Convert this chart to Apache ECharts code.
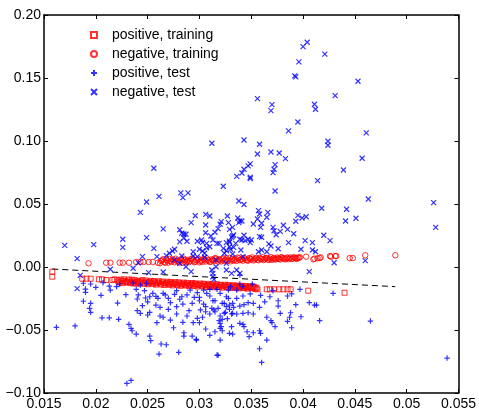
<!DOCTYPE html>
<html>
<head>
<meta charset="utf-8">
<script src="https://cdn.jsdelivr.net/npm/echarts@6/dist/echarts.min.js"></script>
<style>
html,body{margin:0;padding:0;background:#fff;}
#chart{width:479px;height:415px;}
</style>
</head>
<body>
<div id="chart"></div>
<script>
// ---- tick labels ----
var xMin = 0.015, xMax = 0.055, xStep = 0.005;
var xTickLabels = ['0.015','0.02','0.025','0.03','0.035','0.04','0.045','0.05','0.055'];
var yMin = -0.10, yMax = 0.20, yStep = 0.05;
var yTickLabels = ['\u22120.10','\u22120.05','0.00','0.05','0.10','0.15','0.20'];

// ---- series names ----
var seriesNames = ['positive, training','negative, training','positive, test','negative, test'];

// ---- positive, training (red squares) ----
var posTrain = [
[0.0158,-0.0037],[0.0158,-0.0077],[0.0187,-0.0093],[0.0191,-0.0093],[0.0195,-0.0093],[0.0203,-0.0098],[0.0206,-0.0098],[0.0210,-0.0103],[0.0216,-0.0103],[0.0218,-0.0098],
[0.0221,-0.0105],[0.0223,-0.0124],[0.0225,-0.0112],[0.0227,-0.0098],[0.0229,-0.0120],[0.0231,-0.0108],[0.0233,-0.0127],[0.0235,-0.0101],[0.0237,-0.0116],[0.0239,-0.0130],
[0.0241,-0.0110],[0.0243,-0.0122],[0.0245,-0.0104],[0.0247,-0.0133],[0.0249,-0.0117],[0.0251,-0.0126],[0.0253,-0.0110],[0.0255,-0.0136],[0.0257,-0.0120],[0.0259,-0.0129],
[0.0261,-0.0113],[0.0263,-0.0139],[0.0265,-0.0123],[0.0267,-0.0132],[0.0269,-0.0117],[0.0271,-0.0141],[0.0273,-0.0126],[0.0275,-0.0135],[0.0277,-0.0120],[0.0279,-0.0144],
[0.0281,-0.0129],[0.0283,-0.0138],[0.0285,-0.0124],[0.0287,-0.0147],[0.0289,-0.0132],[0.0291,-0.0141],[0.0293,-0.0127],[0.0295,-0.0150],[0.0297,-0.0135],[0.0299,-0.0144],
[0.0301,-0.0131],[0.0303,-0.0153],[0.0305,-0.0138],[0.0307,-0.0147],[0.0309,-0.0134],[0.0311,-0.0156],[0.0313,-0.0141],[0.0315,-0.0150],[0.0317,-0.0137],[0.0319,-0.0159],
[0.0321,-0.0145],[0.0323,-0.0153],[0.0325,-0.0141],[0.0327,-0.0162],[0.0329,-0.0148],[0.0331,-0.0157],[0.0333,-0.0145],[0.0335,-0.0165],[0.0337,-0.0152],[0.0339,-0.0160],
[0.0341,-0.0149],[0.0343,-0.0167],[0.0345,-0.0156],[0.0347,-0.0163],[0.0349,-0.0153],[0.0351,-0.0169],[0.0353,-0.0159],[0.0355,-0.0166],
[0.0222,-0.0115],[0.0224,-0.0100],[0.0226,-0.0128],[0.0228,-0.0110],[0.0230,-0.0122],[0.0232,-0.0099],[0.0234,-0.0118],[0.0236,-0.0131],[0.0238,-0.0105],[0.0240,-0.0121],
[0.0242,-0.0133],[0.0244,-0.0114],[0.0246,-0.0125],[0.0248,-0.0107],[0.0250,-0.0137],[0.0252,-0.0119],[0.0254,-0.0128],[0.0256,-0.0111],[0.0258,-0.0140],[0.0260,-0.0122],
[0.0262,-0.0132],[0.0264,-0.0116],[0.0266,-0.0143],[0.0268,-0.0126],[0.0270,-0.0135],[0.0272,-0.0119],[0.0274,-0.0146],[0.0276,-0.0129],[0.0278,-0.0138],[0.0280,-0.0122],
[0.0282,-0.0149],[0.0284,-0.0133],[0.0286,-0.0142],[0.0288,-0.0126],[0.0290,-0.0152],[0.0292,-0.0136],[0.0294,-0.0145],[0.0296,-0.0130],[0.0298,-0.0155],[0.0300,-0.0140],
[0.0302,-0.0148],[0.0304,-0.0133],[0.0306,-0.0158],[0.0308,-0.0143],[0.0310,-0.0152],[0.0312,-0.0137],[0.0314,-0.0161],[0.0316,-0.0146],[0.0318,-0.0155],[0.0320,-0.0141],
[0.0322,-0.0164],[0.0324,-0.0149],[0.0326,-0.0158],[0.0328,-0.0144],[0.0330,-0.0167],[0.0332,-0.0152],[0.0334,-0.0161],[0.0336,-0.0148],[0.0338,-0.0170],[0.0340,-0.0155],
[0.0342,-0.0164],[0.0344,-0.0151],[0.0346,-0.0172],[0.0348,-0.0158],[0.0350,-0.0166],[0.0352,-0.0155],[0.0354,-0.0174],
[0.0356,-0.0177],[0.0365,-0.0177],[0.0368,-0.0177],[0.0372,-0.0177],[0.0377,-0.0177],[0.0381,-0.0177],[0.0385,-0.0177],[0.0388,-0.0177],[0.0405,-0.0188],[0.0440,-0.0204]
];

// ---- negative, training (red circles) ----
var negTrain = [
[0.0193,0.0029],[0.0210,0.0034],[0.0214,0.0034],[0.0223,0.0034],[0.0226,0.0034],[0.0232,0.0034],[0.0239,0.0040],[0.0243,0.0040],[0.0246,0.0040],[0.0251,0.0040],[0.0255,0.0040],[0.0260,0.0034],
[0.0262,0.0030],[0.0264,0.0052],[0.0266,0.0041],[0.0268,0.0058],[0.0270,0.0035],[0.0272,0.0047],[0.0274,0.0060],[0.0276,0.0038],[0.0278,0.0050],[0.0280,0.0043],
[0.0282,0.0061],[0.0284,0.0036],[0.0286,0.0055],[0.0288,0.0046],[0.0290,0.0039],[0.0292,0.0062],[0.0294,0.0050],[0.0296,0.0042],[0.0298,0.0058],[0.0300,0.0037],
[0.0302,0.0053],[0.0304,0.0064],[0.0306,0.0044],[0.0308,0.0057],[0.0310,0.0040],[0.0312,0.0061],[0.0314,0.0049],[0.0316,0.0066],[0.0318,0.0043],[0.0320,0.0055],
[0.0322,0.0062],[0.0324,0.0047],[0.0326,0.0068],[0.0328,0.0052],[0.0330,0.0045],[0.0332,0.0063],[0.0334,0.0056],[0.0336,0.0049],[0.0338,0.0069],[0.0340,0.0058],
[0.0342,0.0050],[0.0344,0.0066],[0.0346,0.0054],[0.0348,0.0071],[0.0350,0.0060],[0.0352,0.0052],[0.0354,0.0067],[0.0356,0.0058],[0.0358,0.0072],[0.0360,0.0062],
[0.0362,0.0055],[0.0364,0.0070],[0.0366,0.0060],[0.0368,0.0066],[0.0370,0.0057],[0.0372,0.0072],[0.0374,0.0063],[0.0376,0.0068],[0.0378,0.0060],[0.0380,0.0073],
[0.0382,0.0065],[0.0384,0.0070],[0.0386,0.0062],[0.0388,0.0075],[0.0390,0.0067],[0.0392,0.0071],[0.0394,0.0064],[0.0396,0.0074],
[0.0263,0.0047],[0.0265,0.0062],[0.0267,0.0033],[0.0269,0.0050],[0.0271,0.0064],[0.0273,0.0040],[0.0275,0.0054],[0.0277,0.0066],[0.0279,0.0045],[0.0281,0.0035],
[0.0283,0.0052],[0.0285,0.0066],[0.0287,0.0041],[0.0289,0.0057],[0.0291,0.0048],[0.0293,0.0068],[0.0295,0.0038],[0.0297,0.0054],[0.0299,0.0065],[0.0301,0.0046],
[0.0303,0.0040],[0.0305,0.0059],[0.0307,0.0069],[0.0309,0.0050],[0.0311,0.0043],[0.0313,0.0056],[0.0315,0.0071],[0.0317,0.0052],[0.0319,0.0062],[0.0321,0.0044],
[0.0323,0.0070],[0.0325,0.0056],[0.0327,0.0048],[0.0329,0.0073],[0.0331,0.0060],[0.0333,0.0050],[0.0335,0.0067],[0.0337,0.0075],[0.0339,0.0054],[0.0341,0.0064],
[0.0343,0.0073],[0.0345,0.0058],[0.0347,0.0050],[0.0349,0.0065],[0.0351,0.0076],[0.0353,0.0060],[0.0355,0.0071],[0.0357,0.0054],[0.0359,0.0066],[0.0361,0.0077],
[0.0363,0.0063],[0.0365,0.0073],[0.0367,0.0056],[0.0369,0.0078],[0.0371,0.0066],[0.0373,0.0060],[0.0375,0.0075],[0.0377,0.0064],[0.0379,0.0079],[0.0381,0.0069],
[0.0383,0.0061],[0.0385,0.0076],[0.0387,0.0068],[0.0389,0.0064],[0.0391,0.0078],[0.0393,0.0069],[0.0395,0.0075],
[0.0397,0.0077],[0.0403,0.0082],[0.0410,0.0061],[0.0411,0.0066],[0.0414,0.0069],[0.0416,0.0071],[0.0417,0.0077],[0.0426,0.0087],[0.0427,0.0082],[0.0431,0.0087],
[0.0432,0.0087],[0.0445,0.0071],[0.0448,0.0071],[0.0460,0.0093],[0.0489,0.0093]
];

// ---- positive, test (blue +) ----
var posTest = [
[0.0195,-0.0135],[0.0200,-0.0161],[0.0207,-0.0125],[0.0213,-0.0151],[0.0223,-0.0135],[0.0190,-0.0175],[0.0190,-0.0201],[0.0205,-0.0225],[0.0188,-0.0272],[0.0195,-0.0288],
[0.0194,-0.0328],[0.0195,-0.0360],[0.0221,-0.0286],[0.0206,-0.0403],[0.0213,-0.0403],[0.0222,-0.0415],[0.0162,-0.0479],[0.0180,-0.0468],[0.0229,-0.0220],[0.0241,-0.0222],
[0.0240,-0.0254],[0.0248,-0.0246],[0.0250,-0.0276],[0.0245,-0.0307],[0.0258,-0.0233],[0.0260,-0.0249],[0.0258,-0.0302],[0.0262,-0.0320],[0.0267,-0.0222],[0.0270,-0.0249],
[0.0272,-0.0283],[0.0276,-0.0217],[0.0278,-0.0315],[0.0281,-0.0256],[0.0284,-0.0294],[0.0288,-0.0222],[0.0290,-0.0347],[0.0293,-0.0288],[0.0295,-0.0241],[0.0298,-0.0204],
[0.0300,-0.0268],[0.0304,-0.0183],[0.0306,-0.0315],[0.0310,-0.0230],[0.0312,-0.0328],[0.0315,-0.0268],[0.0320,-0.0209],[0.0324,-0.0288],[0.0326,-0.0236],[0.0329,-0.0336],
[0.0332,-0.0288],[0.0336,-0.0249],[0.0240,-0.0347],[0.0243,-0.0368],[0.0250,-0.0381],[0.0252,-0.0360],[0.0262,-0.0389],[0.0265,-0.0399],[0.0270,-0.0336],[0.0272,-0.0421],
[0.0278,-0.0373],[0.0284,-0.0439],[0.0288,-0.0389],[0.0294,-0.0442],[0.0298,-0.0407],[0.0303,-0.0399],[0.0306,-0.0355],[0.0310,-0.0373],[0.0314,-0.0341],[0.0322,-0.0415],
[0.0325,-0.0360],[0.0329,-0.0302],[0.0331,-0.0373],[0.0232,-0.0455],[0.0234,-0.0487],[0.0239,-0.0532],[0.0235,-0.0506],[0.0259,-0.0442],[0.0252,-0.0548],[0.0253,-0.0585],
[0.0275,-0.0482],[0.0285,-0.0522],[0.0285,-0.0548],[0.0293,-0.0548],[0.0297,-0.0574],[0.0306,-0.0492],[0.0315,-0.0514],[0.0320,-0.0447],[0.0320,-0.0487],[0.0322,-0.0506],
[0.0320,-0.0580],[0.0331,-0.0474],[0.0332,-0.0532],[0.0263,-0.0611],[0.0268,-0.0617],[0.0280,-0.0677],[0.0317,-0.0699],[0.0261,-0.0691],
[0.0339,-0.0135],[0.0330,-0.0156],[0.0336,-0.0183],[0.0342,-0.0156],[0.0351,-0.0135],[0.0359,-0.0225],[0.0342,-0.0230],[0.0317,-0.0177],[0.0307,-0.0209],[0.0313,-0.0268],
[0.0300,-0.0241],[0.0304,-0.0294],[0.0301,-0.0341],[0.0315,-0.0355],[0.0318,-0.0328],[0.0322,-0.0288],[0.0326,-0.0315],[0.0333,-0.0320],[0.0339,-0.0310],[0.0343,-0.0299],
[0.0347,-0.0283],[0.0352,-0.0288],[0.0358,-0.0320],[0.0328,-0.0249],[0.0332,-0.0368],[0.0336,-0.0373],[0.0342,-0.0368],[0.0347,-0.0363],[0.0352,-0.0373],[0.0320,-0.0389],
[0.0324,-0.0368],[0.0327,-0.0410],[0.0300,-0.0442],[0.0339,-0.0447],[0.0342,-0.0455],[0.0343,-0.0474],[0.0319,-0.0426],[0.0321,-0.0474],[0.0310,-0.0542],[0.0329,-0.0526],
[0.0346,-0.0514],[0.0352,-0.0522],[0.0358,-0.0506],[0.0359,-0.0526],[0.0348,-0.0553],[0.0365,-0.0580],[0.0358,-0.0649],[0.0318,-0.0701],[0.0365,-0.0399],[0.0369,-0.0426],
[0.0370,-0.0442],[0.0373,-0.0474],[0.0376,-0.0268],[0.0376,-0.0310],[0.0378,-0.0368],[0.0385,-0.0431],[0.0387,-0.0399],[0.0388,-0.0363],[0.0389,-0.0482],[0.0385,-0.0230],
[0.0389,-0.0214],[0.0393,-0.0299],[0.0398,-0.0395],[0.0406,-0.0283],[0.0413,-0.0302],[0.0416,-0.0426],[0.0429,-0.0209],[0.0465,-0.0429],[0.0539,-0.0723],[0.0397,-0.0177],
[0.0360,-0.0757],[0.0230,-0.0924],[0.0234,-0.0900],[0.0297,-0.0580],
[0.0239,-0.0177],[0.0247,-0.0188],[0.0252,-0.0236],[0.0255,-0.0209],[0.0265,-0.0209],[0.0278,-0.0188],[0.0283,-0.0236],[0.0291,-0.0183],[0.0310,-0.0177],[0.0236,-0.0127],
[0.0243,-0.0143],[0.0249,-0.0129],[0.0339,-0.0064],[0.0349,-0.0214],[0.0368,-0.0236],[0.0371,-0.0188],[0.0328,-0.0183],[0.0363,-0.0276],[0.0411,-0.0302],[0.0188,-0.0129],
[0.0220,-0.0156],[0.0214,-0.0183]
];

// ---- negative, test (blue x) ----
var negTest = [
[0.0404,0.1784],[0.0400,0.1749],[0.0421,0.1689],[0.0396,0.1628],[0.0392,0.1517],[0.0393,0.1509],[0.0453,0.1474],[0.0431,0.1360],[0.0356,0.1336],[0.0370,0.1289],
[0.0369,0.1241],[0.0411,0.1292],[0.0412,0.1252],[0.0395,0.1151],[0.0386,0.1080],[0.0461,0.1064],[0.0358,0.0974],[0.0424,0.0998],[0.0424,0.0966],[0.0356,0.0897],
[0.0369,0.0913],[0.0377,0.0905],[0.0383,0.0860],[0.0457,0.0863],[0.0373,0.0812],[0.0372,0.0776],[0.0371,0.0749],[0.0349,0.0818],[0.0349,0.0712],[0.0439,0.0770],
[0.0414,0.0685],[0.0373,0.0603],[0.0463,0.0540],[0.0526,0.0511],[0.0528,0.0315],[0.0418,0.0466],[0.0442,0.0458],[0.0441,0.0365],[0.0451,0.0387],[0.0395,0.0410],
[0.0403,0.0399],[0.0399,0.0389],[0.0393,0.0363],[0.0357,0.0447],[0.0358,0.0421],[0.0366,0.0434],[0.0365,0.0395],[0.0356,0.0381],[0.0352,0.0341],[0.0360,0.0347],
[0.0371,0.0315],[0.0372,0.0288],[0.0374,0.0256],[0.0378,0.0283],[0.0381,0.0331],[0.0385,0.0299],[0.0391,0.0264],[0.0420,0.0252],[0.0360,0.0236],
[0.0312,0.0982],[0.0343,0.1008],[0.0256,0.0784],[0.0347,0.0802],[0.0343,0.0776],[0.0341,0.0746],[0.0336,0.0719],[0.0349,0.0701],[0.0323,0.0641],[0.0282,0.0588],
[0.0289,0.0588],[0.0284,0.0550],[0.0261,0.0561],[0.0249,0.0516],[0.0338,0.0524],[0.0343,0.0496],[0.0243,0.0434],
[0.0296,0.0407],[0.0306,0.0418],[0.0310,0.0405],[0.0292,0.0352],[0.0306,0.0333],[0.0327,0.0405],[0.0321,0.0360],[0.0320,0.0339],[0.0328,0.0352],[0.0265,0.0302],
[0.0281,0.0296],[0.0283,0.0268],[0.0287,0.0260],[0.0306,0.0272],[0.0315,0.0276],[0.0318,0.0304],[0.0226,0.0220],[0.0226,0.0156],[0.0249,0.0233],[0.0285,0.0230],
[0.0298,0.0204],[0.0302,0.0214],[0.0303,0.0196],[0.0311,0.0246],[0.0329,0.0299],[0.0332,0.0315],[0.0332,0.0246],[0.0329,0.0196],[0.0317,0.0188],[0.0319,0.0188],
[0.0256,0.0148],[0.0276,0.0141],[0.0274,0.0127],[0.0271,0.0109],[0.0268,0.0090],[0.0245,0.0082],[0.0294,0.0121],[0.0294,0.0087],[0.0300,0.0141],[0.0303,0.0127],
[0.0307,0.0153],[0.0305,0.0109],[0.0323,0.0148],[0.0326,0.0129],[0.0329,0.0161],[0.0324,0.0109],[0.0283,0.0087],[0.0298,0.0082],[0.0305,0.0077],
[0.0337,0.0389],[0.0339,0.0365],[0.0341,0.0365],[0.0338,0.0352],[0.0359,0.0315],[0.0333,0.0254],[0.0331,0.0236],[0.0329,0.0204],[0.0326,0.0193],[0.0339,0.0220],
[0.0341,0.0214],[0.0344,0.0209],[0.0347,0.0220],[0.0350,0.0214],[0.0349,0.0193],[0.0343,0.0252],[0.0367,0.0183],[0.0369,0.0167],[0.0376,0.0145],[0.0386,0.0193],
[0.0402,0.0209],[0.0409,0.0193],[0.0426,0.0209],[0.0398,0.0141],[0.0409,0.0135],[0.0412,0.0121],[0.0330,0.0141],[0.0340,0.0135],[0.0333,0.0156],[0.0357,0.0121],
[0.0360,0.0135],[0.0365,0.0121],
[0.0170,0.0172],[0.0198,0.0177],[0.0182,0.0066],[0.0185,-0.0066],[0.0214,-0.0018],[0.0182,-0.0172],[0.0241,0.0034],[0.0251,-0.0045],[0.0285,0.0262],[0.0288,0.0204],
[0.0281,0.0199],[0.0276,0.0056],[0.0265,-0.0040],[0.0281,0.0029],[0.0287,0.0002],[0.0292,-0.0037],[0.0310,0.0161],[0.0307,0.0188],[0.0313,0.0214],[0.0312,-0.0024],
[0.0313,-0.0050],[0.0316,0.0002],[0.0335,0.0188],[0.0326,-0.0024],[0.0331,-0.0050],[0.0358,0.0241],[0.0430,0.0034],[0.0460,0.0050],[0.0406,-0.0037],[0.0336,-0.0024],
[0.0339,-0.0050],[0.0313,-0.0077],[0.0314,-0.0098],[0.0342,0.0082],[0.0332,0.0103],[0.0259,0.0082],[0.0316,0.0056],[0.0326,0.0029],[0.0236,-0.0010]
];

// ---- separating line (dashed) ----
var boundary = [[0.0158,-0.0016],[0.0489,-0.0156]];

var FONT = '"Liberation Sans", Arial, Helvetica, sans-serif';
var SQUARE = 'path://M0,0L10,0L10,10L0,10Z';
var PLUS = 'path://M5,0L5,10M0,5L10,5';
var CROSS = 'path://M0,0L10,10M10,0L0,10';

function xFmt(v){ var i = Math.round((v - xMin) / xStep); return xTickLabels[i] || ''; }
function yFmt(v){ var i = Math.round((v - yMin) / yStep); return yTickLabels[i] || ''; }

var axisLineStyle = {color:'#000', width:1.5};
function makeX(pos, showLabel){
  return {type:'value', position:pos, min:xMin, max:xMax, interval:xStep,
    axisLine:{show:true, onZero:false, lineStyle:axisLineStyle},
    axisTick:{show:true, inside:true, length:4, lineStyle:{color:'#000', width:1}},
    axisLabel:{show:showLabel, formatter:xFmt, color:'#000', fontSize:14, fontFamily:FONT, margin:4,
      showMinLabel:true, showMaxLabel:true, hideOverlap:false},
    splitLine:{show:false}};
}
function makeY(pos, showLabel){
  return {type:'value', position:pos, min:yMin, max:yMax, interval:yStep,
    axisLine:{show:true, onZero:false, lineStyle:axisLineStyle},
    axisTick:{show:true, inside:true, length:4, lineStyle:{color:'#000', width:1}},
    axisLabel:{show:showLabel, formatter:yFmt, color:'#000', fontSize:14, fontFamily:FONT, margin:3,
      showMinLabel:true, showMaxLabel:true, hideOverlap:false},
    splitLine:{show:false}};
}

var chart = echarts.init(document.getElementById('chart'), null, {renderer:'canvas'});
chart.setOption({
  animation:false,
  backgroundColor:'#fff',
  grid:{left:44, right:20, top:15, bottom:22, containLabel:false},
  xAxis:[makeX('bottom', true), makeX('top', false)],
  yAxis:[makeY('left', true), makeY('right', false)],
  legend:{
    data:seriesNames, orient:'vertical', left:85, top:23,
    itemWidth:26, itemHeight:6, itemGap:5,
    textStyle:{color:'#000', fontSize:14, fontFamily:FONT},
    selectedMode:false
  },
  series:[
    {name:seriesNames[0], type:'scatter', data:posTrain, symbol:SQUARE, symbolSize:5,
      itemStyle:{color:'rgba(255,0,0,0)', borderColor:'#ff0000', borderWidth:1}},
    {name:seriesNames[1], type:'scatter', data:negTrain, symbol:'circle', symbolSize:5.5,
      itemStyle:{color:'rgba(255,0,0,0)', borderColor:'#ff0000', borderWidth:1}},
    {name:seriesNames[2], type:'scatter', data:posTest, symbol:PLUS, symbolSize:5.5,
      itemStyle:{color:'rgba(0,0,255,0)', borderColor:'#0000ff', borderWidth:1.2}},
    {name:seriesNames[3], type:'scatter', data:negTest, symbol:CROSS, symbolSize:5,
      itemStyle:{color:'rgba(0,0,255,0)', borderColor:'#0000ff', borderWidth:1.2}},
    {name:'boundary', type:'line', data:boundary, symbol:'none', silent:true,
      lineStyle:{color:'#000', width:1, type:[6,4]}, z:5}
  ]
});
</script>
</body>
</html>
